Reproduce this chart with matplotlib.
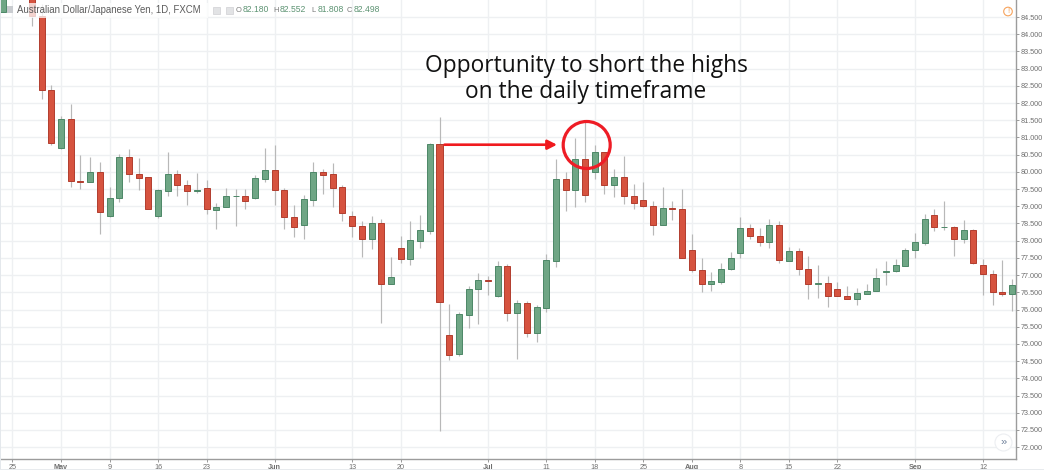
import numpy as np
import pandas as pd
import matplotlib
matplotlib.use("Agg")
import matplotlib.pyplot as plt
from matplotlib.patches import Circle, Rectangle
from matplotlib.transforms import IdentityTransform

nan = float("nan")
dates = pd.bdate_range("2016-04-22", "2016-09-15")

opens = [84.65, nan, nan, 85.30, 84.54, 82.37, 80.68, 81.53, 79.73, 79.71,
         80.01, 78.71, 79.23, 80.42, 79.94, 79.84, 78.71, 79.45, 79.94, 79.63,
         79.45, 79.52, 78.90, 78.99, 79.29, 79.30, 79.23, 79.80, 80.05, 79.47,
         78.68, 78.46, 79.19, 80.01, 79.93, 79.55, 78.73, 78.43, 78.06, 78.52,
         76.75, 77.80, 77.47, 78.00, 78.29, 80.80, 75.26, 74.70, 75.85, 76.59,
         76.86, 76.40, 77.27, 75.90, 76.18, 75.31, 76.05, 77.42, 79.78, 79.46,
         80.36, 80.00, 80.57, 79.61, 79.85, 79.30, 79.18, 79.02, 78.46, 78.94,
         78.91, 77.72, 77.15, 76.75, 76.81, 77.18, 77.65, 78.36, 78.15, 77.95,
         78.47, 77.42, 77.69, 77.17, 76.73, 76.77, 76.60, 76.40, 76.32, 76.46,
         76.54, 77.10, 77.11, 77.27, 77.73, 77.94, 78.76, 78.39, 78.41, 78.05,
         78.32, 77.30, 77.03, 76.52, 76.44]
closes = [85.30, nan, nan, 84.54, 82.37, 80.83, 81.53, 79.73, 79.71, 80.01,
          78.84, 79.23, 80.42, 79.94, 79.83, 78.93, 79.46, 79.94, 79.63, 79.45,
          79.46, 78.91, 78.99, 79.30, 79.31, 79.15, 79.81, 80.05, 79.46, 78.68,
          78.39, 79.20, 80.01, 79.92, 79.54, 78.81, 78.43, 78.05, 78.52, 76.75,
          76.95, 77.47, 78.01, 78.30, 80.80, 76.21, 74.68, 75.86, 76.60, 76.87,
          76.83, 77.27, 75.90, 76.18, 75.31, 76.07, 77.43, 79.78, 79.46, 80.36,
          79.34, 80.57, 79.62, 79.85, 79.30, 79.11, 79.02, 78.46, 78.94, 78.91,
          77.50, 77.15, 76.75, 76.82, 77.18, 77.51, 78.36, 78.14, 77.95, 78.47,
          77.45, 77.69, 77.17, 76.73, 76.77, 76.38, 76.40, 76.32, 76.47, 76.55,
          76.93, 77.12, 77.28, 77.74, 77.95, 78.64, 78.40, 78.41, 78.05, 78.32,
          77.34, 77.03, 76.51, 76.44, 76.70]
highs = [85.40, nan, nan, 85.40, 84.88, 82.52, 81.61, 81.96, 80.48, 80.44,
         80.30, 79.55, 80.52, 80.66, 80.40, 79.86, 79.49, 80.57, 80.04, 79.75,
         79.96, 79.75, 79.11, 79.52, 79.50, 79.50, 79.91, 80.69, 80.79, 79.53,
         79.03, 79.34, 80.30, 80.08, 80.27, 79.62, 78.87, 78.57, 78.73, 78.62,
         77.53, 78.15, 78.57, 78.75, 80.83, 81.58, 76.15, 75.92, 76.68, 77.05,
         76.97, 77.41, 77.31, 76.27, 76.25, 76.13, 77.60, 80.36, 80.00, 80.99,
         81.46, 80.78, 80.59, 80.07, 80.46, 79.64, 79.72, 79.16, 79.57, 79.15,
         79.50, 78.19, 77.50, 77.09, 77.35, 77.67, 78.70, 78.48, 78.37, 78.64,
         78.56, 77.81, 77.78, 77.57, 77.29, 76.97, 76.79, 76.68, 76.64, 76.74,
         77.20, 77.41, 77.47, 77.80, 78.21, 78.79, 78.91, 79.14, 78.44, 78.60,
         78.33, 77.46, 77.14, 77.43, 76.90]
lows = [84.65, nan, nan, 84.24, 82.11, 80.79, 80.66, 79.55, 79.50, 79.70,
        78.19, 78.69, 79.13, 79.72, 79.46, 78.91, 78.65, 79.31, 79.31, 79.03,
        79.39, 78.79, 78.33, 78.99, 78.44, 78.92, 79.22, 79.71, 79.03, 78.33,
        78.11, 78.06, 79.02, 79.37, 78.99, 78.56, 78.10, 77.52, 77.76, 75.62,
        76.73, 77.36, 77.30, 77.79, 78.20, 72.46, 74.53, 74.65, 75.47, 75.58,
        76.42, 76.37, 75.67, 74.56, 75.21, 75.06, 75.93, 77.23, 78.86, 78.98,
        79.13, 79.78, 79.35, 79.28, 79.06, 78.91, 78.97, 78.16, 78.45, 78.60,
        77.49, 77.08, 76.51, 76.53, 76.75, 77.15, 77.49, 78.04, 77.85, 77.80,
        77.34, 77.40, 76.99, 76.31, 76.34, 76.08, 76.38, 76.30, 76.13, 76.45,
        76.53, 76.71, 77.09, 77.26, 77.49, 77.88, 78.29, 78.31, 77.57, 77.92,
        77.33, 76.43, 76.12, 76.39, 75.96]

x_tick_dates = ["2016-04-25", "2016-05-02", "2016-05-09", "2016-05-16", "2016-05-23",
                "2016-06-01", "2016-06-13", "2016-06-20", "2016-07-01", "2016-07-11",
                "2016-07-18", "2016-07-25", "2016-08-01", "2016-08-08", "2016-08-15",
                "2016-08-22", "2016-09-01", "2016-09-12"]
x_tick_labels = ["25", "May", "9", "16", "23", "Jun", "13", "20", "Jul", "11",
                 "18", "25", "Aug", "8", "15", "22", "Sep", "12"]
month_labels = {"May", "Jun", "Jul", "Aug", "Sep"}
y_ticks = [72.0 + 0.5 * k for k in range(26)]

title_text = "Australian Dollar/Japanese Yen, 1D, FXCM"
ohlc_text = [("O", "82.180"), ("H", "82.552"), ("L", "81.808"), ("C", "82.498")]
note_lines = ["Opportunity to short the highs", "on the daily timeframe"]

W, H = 1044, 470
plt.rcParams["font.family"] = ["Liberation Sans", "DejaVu Sans"]
fig = plt.figure(figsize=(W / 100, H / 100), dpi=100, facecolor="white")

L, R, T, B = 1.0, 1015.7, 0.0, 458.7
ax = fig.add_axes([L / W, 1 - B / H, (R - L) / W, (B - T) / H])
ax.set_xlim(-0.182, 104.37)
ax.set_ylim(71.666, 84.994)
ax.set_facecolor("white")

o, c, h, l = map(np.array, (opens, closes, highs, lows))
xs = np.arange(len(dates))
ok = ~np.isnan(o)
up = c >= o
RED, RED_E = "#d6533f", "#b23d2e"
GREEN, GREEN_E = "#6fa685", "#4c8767"

ax.vlines(xs[ok], l[ok], h[ok], color="#b8b8b8", lw=0.85, zorder=2)
mask_up = ok & up
mask_dn = ok & ~up
ax.bar(xs[mask_up], (c - o)[mask_up], bottom=o[mask_up], width=0.62,
       facecolor=GREEN, edgecolor=GREEN_E, linewidth=0.7, zorder=3)
ax.bar(xs[mask_dn], (c - o)[mask_dn], bottom=o[mask_dn], width=0.62,
       facecolor=RED, edgecolor=RED_E, linewidth=0.7, zorder=3)

pos = [dates.get_loc(pd.Timestamp(d)) for d in x_tick_dates]
ax.set_xticks(pos)
ax.set_xticklabels(x_tick_labels)
ax.set_yticks(y_ticks)
ax.set_yticklabels([f"{v:.3f}" for v in y_ticks])
ax.yaxis.tick_right()
ax.grid(True, color="#eef0f2", lw=1.0)
ax.set_axisbelow(True)
ax.tick_params(axis="both", length=2, width=0.7, color="#999999",
               labelcolor="#6f6f6f", labelsize=5.2, pad=1.8)
for lab, txt in zip(ax.get_xticklabels(), x_tick_labels):
    if txt in month_labels:
        lab.set_fontweight("bold")
for s in ("top", "left"):
    ax.spines[s].set_visible(False)
for s in ("right", "bottom"):
    ax.spines[s].set_color("#9c9c9c")
    ax.spines[s].set_linewidth(1.0)


def fx(px):
    return px / W


def fy(py):
    return 1 - py / H


# header strip
fig.add_artist(Rectangle((fx(13), fy(3)), 195 / W, -15 / H, transform=fig.transFigure,
                         facecolor="white", alpha=0.75, edgecolor="none", zorder=4))
fig.add_artist(Rectangle((fx(7), fy(13)), 5.5 / W, 6.5 / H, transform=fig.transFigure,
                         facecolor="#c9ccd0", edgecolor="none", zorder=5))
fig.text(fx(17), fy(10), title_text, fontsize=6.9, color="#5c5c5c", va="center", zorder=6)
for px in (213, 226):
    fig.add_artist(Rectangle((fx(px), fy(14)), 7 / W, 7 / H, transform=fig.transFigure,
                             facecolor="#e2e3e5", edgecolor="#cfd0d3", linewidth=0.5, zorder=5))
for (letter, value), lx in zip(ohlc_text, (236, 273, 311, 347)):
    fig.text(fx(lx), fy(10), letter, fontsize=5.4, color="#777777", va="center", zorder=6)
    fig.text(fx(lx + 6.8), fy(10), value, fontsize=6.2, color="#5e9474", va="center", zorder=6)

# annotation
fig.text(fx(586), fy(66), note_lines[0], fontsize=16.4, family="Open Sans",
         color="#111111", ha="center", va="center", zorder=7)
fig.text(fx(586), fy(92), note_lines[1], fontsize=16.4, family="Open Sans",
         color="#111111", ha="center", va="center", zorder=7)

ax.annotate("", xy=(fx(557), fy(144.7)), xytext=(fx(444.5), fy(144.7)),
            xycoords="figure fraction", textcoords="figure fraction", zorder=8,
            arrowprops=dict(arrowstyle="-|>,head_length=0.55,head_width=0.28",
                            color="#f01a1e", lw=1.9, shrinkA=0, shrinkB=0))
fig.add_artist(Circle((586.7, H - 145), 23.5, transform=IdentityTransform(),
                      facecolor="none", edgecolor="#ee1c25", linewidth=2.3, zorder=8))

# warning icon and scroll button
fig.add_artist(Circle((1008, H - 11.5), 4.3, transform=IdentityTransform(),
                      facecolor="white", edgecolor="#f6a35c", linewidth=0.8, zorder=6))
fig.text(fx(1008), fy(11.5), "!", fontsize=5.5, color="#f6a35c", ha="center", va="center", zorder=7)
fig.add_artist(Circle((1003.5, H - 442.5), 8.5, transform=IdentityTransform(),
                      facecolor="white", edgecolor="#eceef1", linewidth=0.8, zorder=6))
fig.text(fx(1003.5), fy(442), "\u00bb", fontsize=8, color="#6d7f99", ha="center", va="center", zorder=7)

# page edges
fig.add_artist(Rectangle((0, 0), 1.2 / W, 1, transform=fig.transFigure, facecolor="#e4e8ec", edgecolor="none", zorder=9))
fig.add_artist(Rectangle((0, 0), 1, 1.2 / H, transform=fig.transFigure, facecolor="#e8ebee", edgecolor="none", zorder=9))

fig.savefig("out.png", dpi=100, facecolor="white")
